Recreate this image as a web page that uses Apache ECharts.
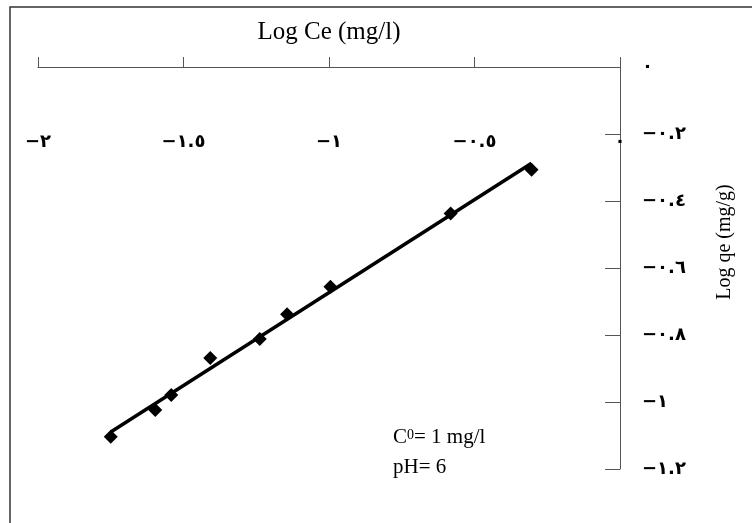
<!DOCTYPE html>
<html>
<head>
<meta charset="utf-8">
<script src="https://cdn.jsdelivr.net/npm/echarts@6/dist/echarts.min.js"></script>
<style>
  html, body { margin: 0; padding: 0; background: #fff; }
  #main_chart { width: 752px; height: 523px; }
</style>
</head>
<body>
<div id="main_chart"></div>
<script>
// Log Ce vs Log qe (Freundlich plot)
var logCe = [-1.750, -1.597, -1.542, -1.408, -1.238, -1.144, -0.995, -0.582, -0.304];
var logQe = [-1.104, -1.024, -0.979, -0.869, -0.812, -0.738, -0.656, -0.437, -0.307];
var xTickLabels = ['−٢', '−١.٥', '−١', '−٠.٥', '٠'];
var yTickLabels = ['−١.٢', '−١', '−٠.٨', '−٠.٦', '−٠.٤', '−٠.٢', '٠'];

var points = logCe.map(function (x, i) { return [x, logQe[i]]; });

// least squares trend line over the data range
var n = logCe.length, sx = 0, sy = 0, sxx = 0, sxy = 0;
for (var i = 0; i < n; i++) {
    sx += logCe[i]; sy += logQe[i];
    sxx += logCe[i] * logCe[i]; sxy += logCe[i] * logQe[i];
}
var slope = (n * sxy - sx * sy) / (n * sxx - sx * sx);
var icpt = (sy - slope * sx) / n;
var xMin = Math.min.apply(null, logCe), xMax = Math.max.apply(null, logCe);
var trend = [[xMin, icpt + slope * xMin], [xMax, icpt + slope * xMax]];

var chart = echarts.init(document.getElementById('main_chart'));
chart.setOption({
    animation: false,
    grid: { left: 38, right: 132, top: 67, bottom: 54 },
    graphic: [{
        type: 'rect',
        shape: { x: 10, y: 7, width: 800, height: 600 },
        style: { fill: 'none', stroke: '#333', lineWidth: 1.5 }
    }, {
        type: 'text',
        x: 725, y: 242, rotation: Math.PI / 2,
        style: {
            text: 'Log qe (mg/g)', fill: '#000',
            font: '20px "Liberation Serif"',
            align: 'center', verticalAlign: 'middle'
        }
    }, {
        type: 'text',
        x: 393, y: 437,
        style: {
            text: '{a|C}{b|0}{a|= 1 mg/l}',
            rich: {
                a: { fontSize: 21, fontFamily: 'Liberation Serif', fill: '#000' },
                b: { fontSize: 14, fontFamily: 'Liberation Serif', fill: '#000', verticalAlign: 'top', padding: [2, 0, 0, 0] }
            },
            verticalAlign: 'middle'
        }
    }, {
        type: 'text',
        x: 393, y: 467,
        style: {
            text: 'pH= 6', fill: '#000',
            font: '21px "Liberation Serif"',
            verticalAlign: 'middle'
        }
    }],
    xAxis: {
        type: 'value',
        position: 'top',
        min: -2, max: 0, interval: 0.5,
        name: 'Log Ce (mg/l)',
        nameLocation: 'middle',
        nameGap: 22,
        nameTextStyle: { fontFamily: 'Liberation Serif', fontSize: 25, color: '#000' },
        axisLine: { onZero: false, lineStyle: { color: '#555', width: 1 } },
        axisTick: { length: 10, lineStyle: { color: '#555' } },
        axisLabel: {
            inside: true, margin: 66,
            fontFamily: 'DejaVu Sans', fontWeight: 'bold', fontSize: 18, color: '#000',
            formatter: function (v, idx) { return xTickLabels[idx]; }
        },
        splitLine: { show: false }
    },
    yAxis: {
        type: 'value',
        position: 'right',
        min: -1.2, max: 0, interval: 0.2,
        axisLine: { onZero: false, lineStyle: { color: '#555', width: 1 } },
        axisTick: { inside: true, length: 15, lineStyle: { color: '#555' } },
        axisLabel: {
            margin: 22,
            fontFamily: 'DejaVu Sans', fontWeight: 'bold', fontSize: 18, color: '#000',
            formatter: function (v, idx) { return yTickLabels[idx]; }
        },
        splitLine: { show: false }
    },
    series: [{
        type: 'line',
        data: trend,
        symbol: 'none',
        lineStyle: { color: '#000', width: 3.5 },
        z: 2
    }, {
        type: 'scatter',
        data: points,
        symbol: 'diamond',
        symbolSize: 14,
        itemStyle: { color: '#000', opacity: 1 },
        z: 3
    }]
});
</script>
</body>
</html>
